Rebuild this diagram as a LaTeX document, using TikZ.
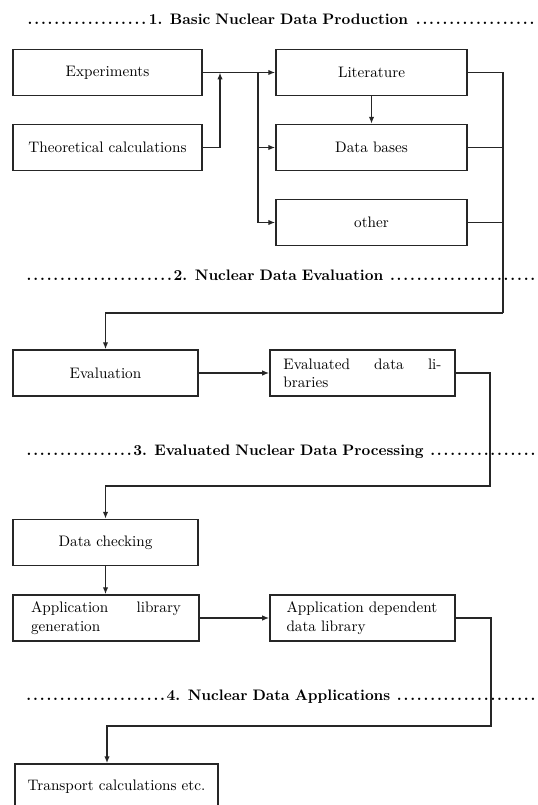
\documentclass[tikz,border=0pt]{standalone}
\usetikzlibrary{arrows.meta}
\newcommand\gapfill{\hskip 0pt plus 1fill\relax}
\begin{document}
\begin{tikzpicture}[x=0.658pt,y=-0.658pt, font=\fontsize{10}{12}\selectfont,
  box/.style={draw=black!85, line width=0.95pt, minimum height=30.3pt, inner ysep=2.6pt},
  link/.style={draw=black!85, line width=0.95pt},
  arr/.style={link, -{Latex[length=4.6pt,width=3.6pt]}},
  head/.style={text width=336.9pt, align=left, inner sep=0pt}]
\useasboundingbox (0,0) rectangle (537,805);
\clip (0,0) rectangle (537,805);

% headings
\node[head] (h1) at (281,19) {\bfseries\dotfill 1. Basic Nuclear Data Production\ \dotfill};
\node[head] (h2) at (281,275) {\bfseries\dotfill 2. Nuclear Data Evaluation\ \dotfill};
\node[head] (h3) at (281,452) {\bfseries\dotfill 3. Evaluated Nuclear Data Processing\ \dotfill};
\node[head] (h4) at (281,697) {\bfseries\dotfill 4. Nuclear Data Applications\ \dotfill};

% boxes
\node[box, minimum width=124.4pt] (exp) at (107.5,72.5) {Experiments};
\node[box, minimum width=124.4pt] (theo) at (107.5,147.5) {Theoretical calculations};
\node[box, minimum width=125.7pt] (lit) at (371.5,72.5) {Literature};
\node[box, minimum width=125.7pt] (db) at (371.5,147.5) {Data bases};
\node[box, minimum width=125.7pt] (oth) at (371.5,222.5) {other};
\node[box, minimum width=121.7pt] (eval) at (105.5,373) {Evaluation};
\node[box, text width=104pt, inner xsep=8.9pt, align=left] (edl) at (362.5,373) {Evaluated\gapfill data\gapfill li-\\braries};
\node[box, minimum width=121.7pt] (dc) at (105.5,542.5) {Data checking};
\node[box, text width=98.7pt, inner xsep=11.8pt, align=left] (alg) at (106,618) {Application\gapfill library\\generation};
\node[box, text width=100pt, inner xsep=10.9pt, align=left] (addl) at (362.5,618) {Application dependent\\data library};
\node[box, minimum width=133.6pt] (tr) at (116.5,787) {Transport calculations etc.};

% junctions
\coordinate (j1) at (220,72.5);
\coordinate (j2) at (258,72.5);
\coordinate (c1) at (503,313);
\coordinate (c2) at (490,486);
\coordinate (c3) at (491,726);
\coordinate (c4) at (107,726);

% connectors
\draw[arr] (exp.east) -- (lit.west);
\draw[arr] (theo.east) -| (j1);
\draw[arr] (j2) |- (db.west);
\draw[arr] (j2) |- (oth.west);
\draw[arr] (lit.south) -- (db.north);
\draw[link] (lit.east) -| (c1);
\draw[link] (db.east) -- (db.east -| c1);
\draw[link] (oth.east) -- (oth.east -| c1);
\draw[arr] (c1) -| (eval.north);
\draw[arr] (eval.east) -- (edl.west);
\draw[arr] (edl.east) -| (c2) -| (dc.north);
\draw[arr] (dc.south) -- (dc.south |- alg.north);
\draw[arr] (alg.east) -- (addl.west);
\draw[arr] (addl.east) -| (c3) -- (c4) -- (c4 |- tr.north);
\end{tikzpicture}
\end{document}
